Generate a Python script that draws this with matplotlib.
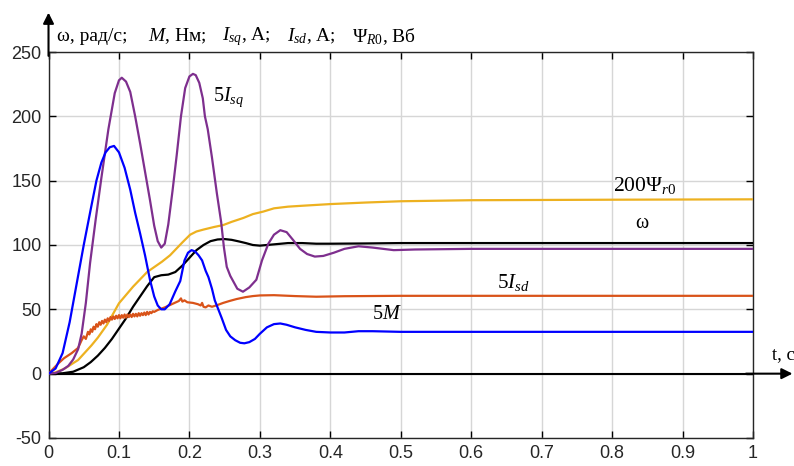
import matplotlib
matplotlib.use("Agg")
import matplotlib.pyplot as plt
import matplotlib.transforms as mtransforms

plt.rcParams['mathtext.fontset'] = 'custom'
plt.rcParams['mathtext.rm'] = 'Liberation Serif'
plt.rcParams['mathtext.it'] = 'Liberation Serif:italic'
plt.rcParams['mathtext.bf'] = 'Liberation Serif:bold'
plt.rcParams['axes.unicode_minus'] = False

# ---------------- data ----------------
x_ticks = [0, 0.1, 0.2, 0.3, 0.4, 0.5, 0.6, 0.7, 0.8, 0.9, 1]
x_tick_labels = ['0', '0.1', '0.2', '0.3', '0.4', '0.5', '0.6', '0.7', '0.8', '0.9', '1']
y_ticks = [-50, 0, 50, 100, 150, 200, 250]

# 5*Isq (purple)
t_isq = [0, 0.010, 0.020, 0.028, 0.035, 0.042, 0.047, 0.053, 0.059, 0.067, 0.075,
         0.085, 0.094, 0.100, 0.104, 0.110, 0.116, 0.123, 0.130, 0.137, 0.144, 0.150,
         0.155, 0.160, 0.165, 0.170, 0.176, 0.182, 0.188, 0.194, 0.200, 0.205, 0.209,
         0.214, 0.219, 0.222, 0.226, 0.232, 0.239, 0.245, 0.249, 0.253, 0.258, 0.262,
         0.268, 0.276, 0.285, 0.295, 0.303, 0.312, 0.320, 0.329, 0.338, 0.347, 0.357,
         0.367, 0.378, 0.390, 0.405, 0.420, 0.440, 0.460, 0.490, 0.520, 0.600, 0.700,
         0.800, 0.900, 1.0]
v_isq = [0, 0.5, 3, 6, 11, 19, 31, 55, 86, 120, 152,
         190, 218, 228, 230, 227, 219, 200, 179, 157, 135, 115,
         103, 98, 101, 116, 142, 170, 200, 222, 231, 233, 232,
         226, 214, 200, 190, 168, 140, 118, 98, 83, 76, 72,
         66, 63.7, 67, 73, 88, 101, 108, 111.5, 110, 104, 97,
         93, 91, 91.5, 94, 97, 99, 98, 96, 96.5, 97, 97,
         97, 97, 97]

# 5*M (blue)
t_m = [0, 0.010, 0.020, 0.030, 0.040, 0.050, 0.060, 0.068, 0.075, 0.081, 0.087,
       0.093, 0.100, 0.108, 0.116, 0.123, 0.130, 0.137, 0.144, 0.150, 0.155, 0.160,
       0.165, 0.172, 0.180, 0.187, 0.193, 0.198, 0.203, 0.208, 0.213, 0.218, 0.223,
       0.227, 0.232, 0.236, 0.241, 0.246, 0.252, 0.258, 0.265, 0.272, 0.278, 0.285,
       0.293, 0.300, 0.310, 0.320, 0.329, 0.338, 0.350, 0.365, 0.380, 0.400, 0.420,
       0.440, 0.460, 0.500, 0.600, 0.800, 1.0]
v_m = [0, 4, 16, 40, 70, 100, 128, 150, 164, 172, 176,
       177, 172, 160, 143, 125, 109, 92, 73, 60, 53, 50,
       50, 54, 64, 72, 88, 94, 96, 95, 92, 88, 80,
       75, 66, 57, 50, 43, 34, 29, 26, 24, 23.6, 24.5,
       27, 31, 36, 38.5, 39, 38, 36, 34, 32.5, 32, 32,
       33, 33, 32.5, 32.5, 32.5, 32.5]

# omega (black)
t_w = [0, 0.02, 0.035, 0.05, 0.06, 0.07, 0.08, 0.09, 0.10, 0.11, 0.12, 0.13, 0.14,
       0.15, 0.16, 0.17, 0.18, 0.19, 0.20, 0.21, 0.22, 0.23, 0.24, 0.25, 0.26, 0.27,
       0.28, 0.29, 0.30, 0.32, 0.34, 0.36, 0.38, 0.40, 0.45, 0.5, 0.6, 0.8, 1.0]
v_w = [0, 0.3, 1.5, 5, 9, 14, 20, 27, 35, 43, 52, 60, 68,
       75, 76.5, 77, 79, 84, 90, 96, 100, 103, 104.3, 104.6, 104, 102.8,
       101.5, 100, 99.5, 100.5, 101.5, 101.5, 101, 101, 101.2, 101.5, 101.5, 101.5, 101.5]

# 200*Psi_r0 (yellow)
t_psi = [0, 0.01, 0.023, 0.042, 0.061, 0.07, 0.083, 0.10, 0.12, 0.14, 0.161, 0.1725,
         0.19, 0.201, 0.21, 0.22, 0.235, 0.248, 0.26, 0.2765, 0.29, 0.305, 0.32, 0.34,
         0.36, 0.40, 0.45, 0.5, 0.6, 0.7, 0.8, 1.0]
v_psi = [0, 1, 4, 10.6, 22, 28, 38, 54.7, 67.6, 79, 87, 92,
         102, 108, 110.5, 112, 114, 115.5, 118, 121, 124, 126, 128.5, 129.8,
         130.5, 131.8, 133, 134, 134.8, 135, 135.2, 135.5]

# 5*Isd (orange-red)
t_isd = [0, 0.007, 0.014, 0.022, 0.033, 0.042, 0.047, 0.050, 0.053,
         0.056, 0.058, 0.060, 0.062, 0.064, 0.066, 0.068, 0.070, 0.072, 0.074,
         0.076, 0.078, 0.080, 0.082, 0.084, 0.086, 0.088, 0.090, 0.092, 0.094,
         0.096, 0.098, 0.100, 0.102, 0.104, 0.106, 0.108, 0.110, 0.112, 0.114,
         0.116, 0.118, 0.120, 0.122, 0.124, 0.126, 0.128, 0.130, 0.132, 0.134,
         0.136, 0.138, 0.140, 0.142, 0.144, 0.146, 0.148, 0.150,
         0.155, 0.165, 0.177, 0.185, 0.188, 0.190, 0.193, 0.197, 0.205, 0.212,
         0.216, 0.218, 0.220, 0.223, 0.227, 0.232, 0.238, 0.248, 0.257, 0.267,
         0.28, 0.29, 0.30, 0.32, 0.35, 0.38, 0.42, 0.5, 0.6, 0.8, 1.0]
v_isd = [0, 4, 8, 12, 16, 20, 26, 29, 27,
         32.5, 30.5, 34.5, 32.5, 36.5, 34.5, 38.5, 36.5, 40, 38,
         41, 39, 42, 40, 43, 41, 44, 42, 44.5, 42.5,
         45, 43, 45.5, 43, 45.5, 43.5, 46, 43.5, 46, 44,
         46, 44, 46.5, 44.5, 46.5, 44.5, 47, 45, 47, 45.5,
         47.5, 45.5, 48, 46, 48, 47, 48.5, 48,
         49.5, 51.5, 54.5, 56.5, 58.5, 56, 57, 55.5, 55, 54,
         53, 55, 52, 51.5, 53, 52, 53, 55, 56.5, 58,
         59.5, 60.3, 60.8, 61, 60.3, 59.8, 60.2, 60.5, 60.5, 60.5, 60.5]

# ---------------- figure ----------------
fig = plt.figure(figsize=(7.94, 4.66), dpi=100)
ax = fig.add_axes([0.0611, 0.0601, 0.9484 - 0.0611, 0.8884 - 0.0601])

ax.grid(True, color='#d6d6d6', linewidth=1.0)
ax.set_axisbelow(True)

lw = 1.6
ax.plot(t_psi, v_psi, color='#EDB120', lw=lw, zorder=3)
ax.plot(t_w, v_w, color='black', lw=lw, zorder=3)
ax.plot(t_isd, v_isd, color='#D95319', lw=lw, zorder=3)
ax.plot(t_isq, v_isq, color='#7E2F8E', lw=lw, zorder=3)
ax.plot(t_m, v_m, color='#0000FF', lw=lw, zorder=3)

ax.set_xlim(0, 1)
ax.set_ylim(-50, 250)
ax.set_xticks(x_ticks)
ax.set_xticklabels(x_tick_labels)
ax.set_yticks(y_ticks)
ax.tick_params(direction='in', length=5, width=1, top=True, right=True,
               labelsize=13, labelcolor='#262626', pad=5)
for lab in ax.get_xticklabels() + ax.get_yticklabels():
    lab.set_family('Liberation Sans')
for s in ax.spines.values():
    s.set_color('#262626')
    s.set_linewidth(1.0)

# zero line with arrow
ax.axhline(0, color='black', lw=1.5, zorder=2)
trans = mtransforms.blended_transform_factory(ax.transAxes, ax.transData)
ax.annotate('', xy=(1.056, 0), xycoords=trans, xytext=(0.99, 0), textcoords=trans,
            arrowprops=dict(arrowstyle='-|>', color='black', lw=1.5,
                            mutation_scale=16, shrinkA=0, shrinkB=0),
            annotation_clip=False)
ax.annotate('', xy=(0, 1.102), xycoords='axes fraction', xytext=(0, 0.99),
            textcoords='axes fraction',
            arrowprops=dict(arrowstyle='-|>', color='black', lw=1.5,
                            mutation_scale=16, shrinkA=0, shrinkB=0),
            annotation_clip=False)

serif = 'Liberation Serif'
title_parts = ['ω, рад/с;', '$M$, Нм;', '$I_{sq}$, А;', '$I_{sd}$, А;',
               '$\\Psi_{R\\mathrm{0}}$, Вб']
title_x = [0.0121, 0.1412, 0.2463, 0.3385, 0.4308]
for txt, xx in zip(title_parts, title_x):
    ax.text(xx, 1.041, txt, transform=ax.transAxes, family=serif, fontsize=14,
            va='center', ha='left')
ax.text(1.027, 14.5, 't, c', transform=trans, family=serif, fontsize=13.5,
        va='center', ha='left', clip_on=False)

ax.text(0.234, 215, '$5I_{sq}$', family=serif, fontsize=14.5, va='center', ha='left')
ax.text(0.801, 146.6, '$200\\Psi_{r\\mathrm{0}}$', family=serif, fontsize=15.5,
        va='center', ha='left')
ax.text(0.842, 116.8, 'ω', family=serif, fontsize=14.5, va='center', ha='center')
ax.text(0.637, 70.5, '$5I_{sd}$', family=serif, fontsize=15, va='center', ha='left')
ax.text(0.459, 45.6, '$5M$', family=serif, fontsize=14.5, va='center', ha='left')

fig.savefig('out.png', dpi=100)
